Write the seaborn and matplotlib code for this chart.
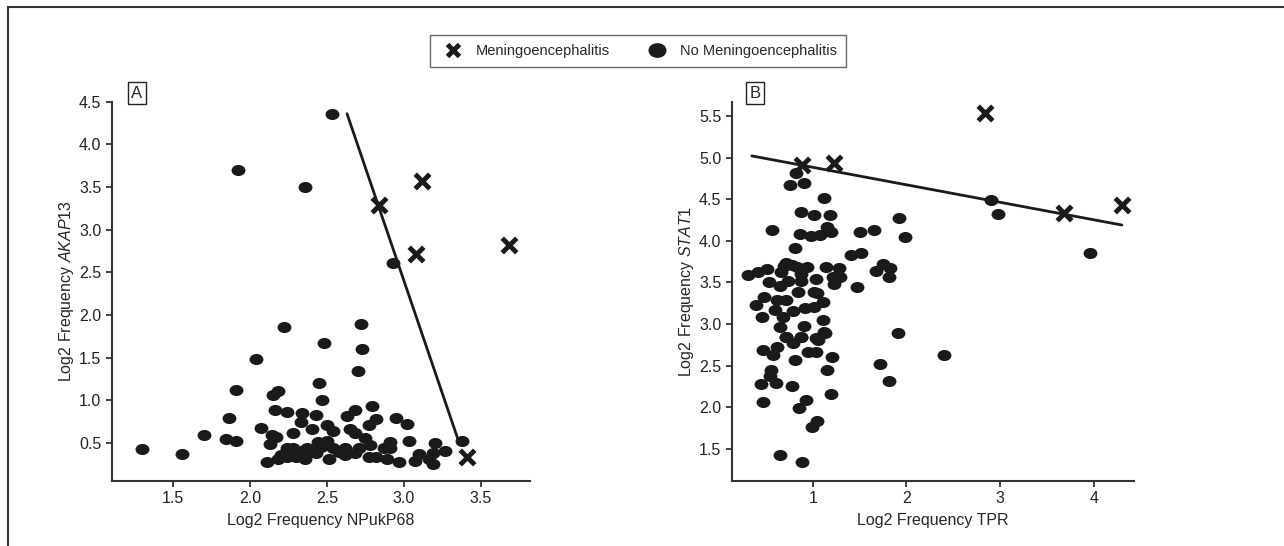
import numpy as np
import pandas as pd
import seaborn as sns
import matplotlib.pyplot as plt
from matplotlib import font_manager
from matplotlib.path import Path
from matplotlib.transforms import Affine2D
from matplotlib.lines import Line2D
from matplotlib.patches import Rectangle

# ---- panel A: NPukP68 vs AKAP13 ----
a_men_x = [2.84, 3.12, 3.08, 3.68, 3.41]
a_men_y = [3.29, 3.57, 2.72, 2.82, 0.34]

a_no_x = [2.53, 1.92, 2.36, 2.93, 2.22, 2.72, 2.04, 2.48, 2.73, 2.70, 1.91, 2.18, 2.15, 2.45,
          2.47, 1.86, 1.70, 1.84, 1.91, 1.30, 1.56, 2.07, 2.16, 2.24, 2.34, 2.43, 2.33, 2.40,
          2.28, 2.14, 2.17, 2.13, 2.50, 2.54, 2.63, 2.68, 2.79, 2.82, 2.77, 2.65, 2.68, 2.75,
          2.95, 3.02, 3.03, 2.91, 2.91, 3.20, 3.27, 3.19, 3.10, 3.07, 3.19, 3.38,
          2.11, 2.18, 2.24, 2.30, 2.36, 2.43, 2.51, 2.62, 2.68, 2.77, 2.82, 2.89, 2.97, 2.28,
          2.37, 2.48, 2.54, 2.78, 2.87, 2.24, 2.20, 2.40, 2.46, 2.58, 2.33, 2.71, 2.50, 2.44,
          2.62, 3.16]
a_no_y = [4.36, 3.70, 3.50, 2.61, 1.86, 1.90, 1.49, 1.67, 1.60, 1.34, 1.12, 1.11, 1.06, 1.20,
          1.00, 0.80, 0.60, 0.55, 0.52, 0.43, 0.37, 0.68, 0.89, 0.87, 0.85, 0.83, 0.75, 0.66,
          0.62, 0.60, 0.57, 0.49, 0.71, 0.64, 0.82, 0.89, 0.94, 0.78, 0.71, 0.66, 0.62, 0.56,
          0.80, 0.72, 0.53, 0.51, 0.44, 0.50, 0.41, 0.38, 0.37, 0.29, 0.25, 0.53,
          0.28, 0.31, 0.44, 0.34, 0.31, 0.38, 0.31, 0.44, 0.38, 0.34, 0.34, 0.31, 0.28, 0.44,
          0.44, 0.48, 0.44, 0.48, 0.44, 0.34, 0.36, 0.40, 0.45, 0.40, 0.41, 0.44, 0.53, 0.51,
          0.36, 0.31]

a_line_x = [2.63, 3.36]
a_line_y = [4.36, 0.50]

# ---- panel B: TPR vs STAT1 ----
b_men_x = [2.84, 0.89, 1.23, 3.68, 4.30]
b_men_y = [5.53, 4.91, 4.94, 4.33, 4.43]

b_no_x = [0.82, 0.76, 0.91, 1.12, 0.88, 1.01, 1.19, 0.57, 0.86, 0.98, 1.08, 1.15, 1.20, 1.92,
          1.99, 1.50, 1.65, 2.90, 2.98, 3.96, 0.81, 1.41, 1.52, 1.47, 1.68, 1.75, 1.82, 1.81,
          1.91, 0.31, 0.42, 0.51, 0.53, 0.65, 0.74, 0.66, 0.72, 0.78, 0.69, 0.83, 0.94, 0.88,
          0.88, 0.84, 1.03, 1.01, 1.05, 1.14, 1.22, 1.28, 1.23, 1.29, 0.40, 0.48, 0.46, 0.60,
          0.62, 0.71, 0.79, 0.92, 1.01, 1.11, 0.68, 0.65, 0.91, 1.11, 1.12, 0.72, 0.88, 1.04,
          0.72, 0.88, 0.79, 1.06, 1.13, 0.47, 0.62, 0.58, 0.81, 0.95, 1.03, 1.21, 1.15, 0.56,
          0.54, 0.45, 0.61, 0.78, 0.47, 0.93, 0.85, 1.20, 1.05, 0.99, 0.65, 0.89, 1.72, 1.81,
          2.40]
b_no_y = [4.81, 4.67, 4.69, 4.52, 4.35, 4.31, 4.31, 4.13, 4.08, 4.06, 4.07, 4.17, 4.11, 4.28,
          4.05, 4.11, 4.13, 4.49, 4.32, 3.85, 3.92, 3.83, 3.86, 3.45, 3.64, 3.72, 3.67, 3.57,
          2.89, 3.59, 3.62, 3.66, 3.50, 3.46, 3.52, 3.62, 3.73, 3.71, 3.70, 3.69, 3.69, 3.60,
          3.52, 3.39, 3.54, 3.39, 3.37, 3.69, 3.57, 3.67, 3.48, 3.57, 3.23, 3.33, 3.09, 3.17,
          3.29, 3.29, 3.16, 3.19, 3.21, 3.26, 3.08, 2.97, 2.98, 3.05, 2.90, 2.85, 2.85, 2.83,
          2.85, 2.85, 2.77, 2.81, 2.89, 2.69, 2.73, 2.63, 2.57, 2.66, 2.66, 2.61, 2.45, 2.45,
          2.38, 2.28, 2.29, 2.26, 2.07, 2.09, 1.99, 2.16, 1.84, 1.77, 1.43, 1.34, 2.52, 2.32,
          2.63]

b_line_x = [0.35, 4.30]
b_line_y = [5.02, 4.19]

legend_labels = ["Meningoencephalitis", "No Meningoencephalitis"]

sns.set_style("ticks")
# condensed sans if it is there, else Liberation Sans (Arial metrics)
names = {f.name for f in font_manager.fontManager.ttflist}
base = 'Liberation Sans Narrow' if 'Liberation Sans Narrow' in names else 'Liberation Sans'
plt.rcParams['font.family'] = [base, 'DejaVu Sans']
plt.rcParams['mathtext.fontset'] = 'custom'
plt.rcParams['mathtext.it'] = base + ':italic'
plt.rcParams['mathtext.rm'] = base

# oval dot marker, a bit wider than tall
oval = Path.unit_circle().transformed(Affine2D().scale(1.0, 0.8))

fig = plt.figure(figsize=(12.84, 5.46), dpi=100)
axA = fig.add_axes([0.087, 0.1196, 0.3258, 0.694])
axB = fig.add_axes([0.5699, 0.1196, 0.3133, 0.694])


def draw_panel(ax, nx, ny, mx, my, lx, ly):
    sns.scatterplot(x=nx, y=ny, ax=ax, marker=oval, s=100, color='#1a1a1a', linewidth=0, zorder=3)
    sns.scatterplot(x=mx, y=my, ax=ax, marker='x', s=110, color='#1a1a1a', linewidth=3.5, zorder=4)
    sns.lineplot(x=lx, y=ly, ax=ax, color='#1a1a1a', linewidth=2, sort=False, zorder=2)
    sns.despine(ax=ax)
    for sp in ['left', 'bottom']:
        ax.spines[sp].set_linewidth(1.5)
        ax.spines[sp].set_color('#333333')
    ax.tick_params(length=4, width=1.2, labelsize=11.5, colors='#222222')


draw_panel(axA, a_no_x, a_no_y, a_men_x, a_men_y, a_line_x, a_line_y)
axA.set_xlim(1.1, 3.82)
axA.set_ylim(0.06, 4.5)
axA.set_xticks([1.5, 2.0, 2.5, 3.0, 3.5])
axA.set_yticks([0.5, 1.0, 1.5, 2.0, 2.5, 3.0, 3.5, 4.0, 4.5])
axA.set_xlabel("Log2 Frequency NPukP68", fontsize=11.5)
axA.set_ylabel(r"Log2 Frequency $\mathit{AKAP13}$", fontsize=11.5)
axA.xaxis.set_label_coords(0.5, -0.085)
axA.yaxis.set_label_coords(-0.085, 0.5)
axA.text(0.06, 1.023, "A", transform=axA.transAxes, ha='center', va='center', fontsize=12,
         bbox=dict(boxstyle='square,pad=0.2', fc='white', ec='#222222', lw=1))

draw_panel(axB, b_no_x, b_no_y, b_men_x, b_men_y, b_line_x, b_line_y)
axB.set_xlim(0.136, 4.43)
axB.set_ylim(1.12, 5.67)
axB.set_xticks([1, 2, 3, 4])
axB.set_yticks([1.5, 2.0, 2.5, 3.0, 3.5, 4.0, 4.5, 5.0, 5.5])
axB.set_xlabel("Log2 Frequency TPR", fontsize=11.5)
axB.set_ylabel(r"Log2 Frequency $\mathit{STAT1}$", fontsize=11.5)
axB.xaxis.set_label_coords(0.5, -0.085)
axB.yaxis.set_label_coords(-0.089, 0.5)
axB.text(0.058, 1.023, "B", transform=axB.transAxes, ha='center', va='center', fontsize=12,
         bbox=dict(boxstyle='square,pad=0.2', fc='white', ec='#222222', lw=1))

handles = [Line2D([], [], marker='x', ls='', color='#1a1a1a', mew=3.5, ms=9),
           Line2D([], [], marker=oval, ls='', color='#1a1a1a', ms=12)]
leg = fig.legend(handles, legend_labels, loc='center', bbox_to_anchor=(0.4969, 0.9066), ncol=2,
                 frameon=True, fancybox=False, edgecolor='#444444', fontsize=10.5,
                 columnspacing=2.3, handletextpad=0.6, borderpad=0.65, handlelength=1.9)
leg.get_frame().set_linewidth(1.0)

# outer frame of the figure (top and left edges visible)
fig.patches.append(Rectangle((8 / 1284, -0.1), 1.2, 1.1 - 7 / 546, transform=fig.transFigure,
                             fill=False, ec='#333333', lw=1.5))

fig.savefig("out.png", dpi=100)
